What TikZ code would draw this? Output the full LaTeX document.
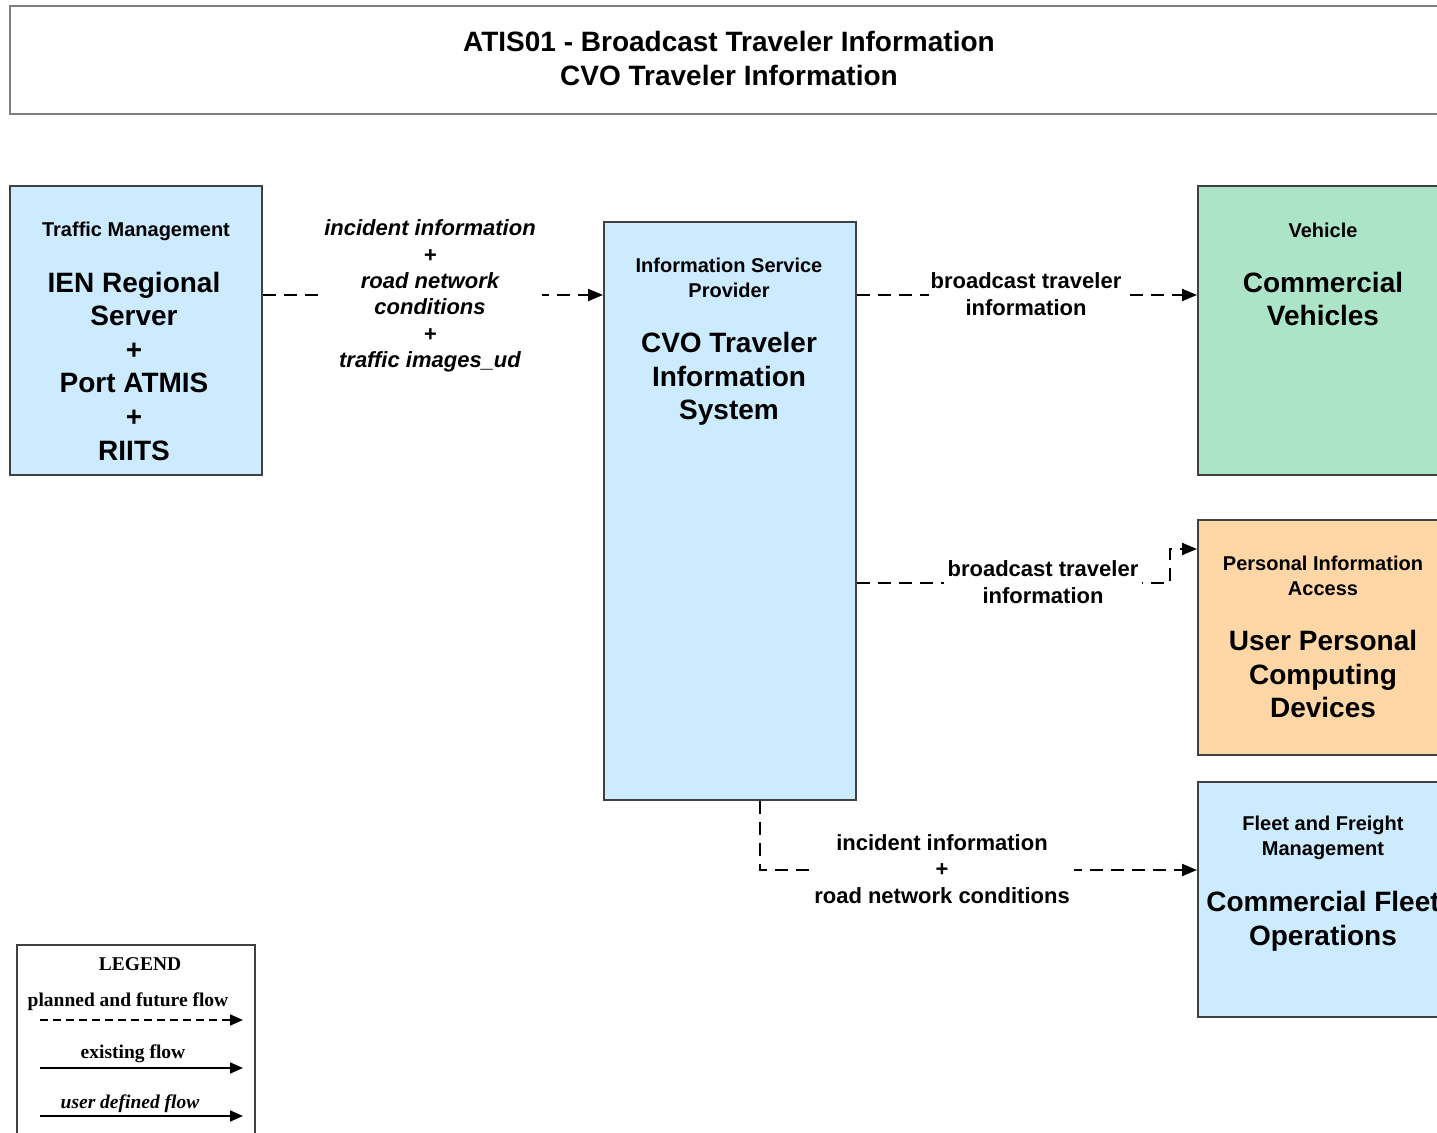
\documentclass[tikz,border=0pt]{standalone}
\usepackage{fontspec}
\setmainfont{Liberation Sans}
\newfontfamily\legendfont{Liberation Serif}
\usetikzlibrary{arrows.meta}
\definecolor{infoblue}{RGB}{204,235,255}
\definecolor{vehgreen}{RGB}{172,228,200}
\definecolor{paorange}{RGB}{255,214,166}
\definecolor{edgegray}{RGB}{64,64,64}
\definecolor{titlegray}{RGB}{128,128,128}
\begin{document}
\begin{tikzpicture}[x=0.5pt,y=-0.5pt,
  unitbox/.style={draw=edgegray, line width=1pt, inner sep=0pt,
    minimum width=126pt},
  cattext/.style={font=\bfseries\fontsize{10}{12.5}\selectfont, align=center, inner sep=0pt},
  nametext/.style={font=\bfseries\fontsize{14}{16.8}\selectfont, align=center, inner sep=0pt},
  flowlabel/.style={font=\bfseries\fontsize{11}{13.2}\selectfont, align=center,
    fill=white, inner xsep=2pt, inner ysep=0pt},
  flow/.style={line width=1pt, dash pattern=on 6.5pt off 4pt,
    -{Triangle[length=7.5pt,width=6pt]}},
  legendtext/.style={font=\legendfont\bfseries\fontsize{9.75}{12}\selectfont, inner sep=0pt},
  legendtip/.style={line width=0.8pt, -{Triangle[length=6.5pt,width=5.5pt]}},
]
\useasboundingbox (0,0) rectangle (1437,1133);
\clip (0,0) rectangle (1437,1133);

% title frame
\node[draw=titlegray, line width=1.3pt, minimum width=719pt, minimum height=54pt,
  inner sep=0pt] (title) at (729,60) {};
\node[font=\bfseries\fontsize{14}{17}\selectfont, align=center, inner sep=0pt] (titletext)
  at (729,58) {ATIS01 - Broadcast Traveler Information\\CVO Traveler Information};

% subsystem and terminator boxes
\node[unitbox, fill=infoblue, minimum height=144.5pt] (tm) at (136,330.5) {};
\node[unitbox, fill=infoblue, minimum height=289pt] (isp) at (730,511) {};
\node[unitbox, fill=vehgreen, minimum height=144.5pt] (veh) at (1324,330.5) {};
\node[unitbox, fill=paorange, minimum height=117.5pt] (pia) at (1324,637.5) {};
\node[unitbox, fill=infoblue, minimum height=117.5pt] (ffm) at (1324,899.5) {};

% box texts
\node[cattext] (tmcat) at (136,231) {Traffic Management};
\node[nametext] (tmname) at (134,366) {IEN Regional\\Server\\+\\Port ATMIS\\+\\RIITS};
\node[cattext] (ispcat) at (729,278) {Information Service\\Provider};
\node[nametext] (ispname) at (729,379) {CVO Traveler\\Information\\System};
\node[cattext] (vehcat) at (1323,230) {Vehicle};
\node[nametext] (vehname) at (1323,299) {Commercial\\Vehicles};
\node[cattext] (piacat) at (1323,576) {Personal Information\\Access};
\node[nametext] (pianame) at (1323,674) {User Personal\\Computing\\Devices};
\node[cattext] (ffmcat) at (1323,838) {Fleet and Freight\\Management};
\node[nametext] (ffmname) at (1323,921) {Commercial Fleet\\Operations};

% bend points of the flows
\coordinate (y1) at (0,295);
\coordinate (k3) at (1170,583);
\coordinate (k3b) at (1170,549);
\coordinate (k4) at (760,870);

% flows
\draw[flow] (tm.east |- y1) -- (isp.west |- y1);
\draw[flow] (isp.east |- y1) -- (veh.west |- y1);
\draw[flow] (isp.east |- k3) -- (k3) -- (k3b) -- (pia.west |- k3b);
\draw[flow] (isp.south -| k4) -- (k4) -- (ffm.west |- k4);

% flow labels
\node[flowlabel, font=\bfseries\itshape\fontsize{11}{13.2}\selectfont, inner xsep=3pt]
  (l1) at (430,296) {incident information\\+\\road network\\conditions\\+\\traffic images\_ud};
\node[flowlabel, inner xsep=1pt] (l2) at (1026,294) {broadcast traveler\\information};
\node[flowlabel, inner xsep=2pt] (l3) at (1043,582) {broadcast traveler\\information};
\node[flowlabel, inner xsep=2pt] (l4) at (942,869) {incident information\\+\\road network conditions};

% legend
\node[draw=edgegray, line width=1pt, minimum width=119pt, minimum height=110pt,
  inner sep=0pt] (legend) at (136,1055) {};
\node[legendtext] (legtitle) at (140,964) {LEGEND};
\node[legendtext] (legplanned) at (128,1002) {planned and future flow};
\node[legendtext] (legexisting) at (133,1054) {existing flow};
\node[legendtext, font=\legendfont\bfseries\itshape\fontsize{9.75}{12}\selectfont]
  (leguser) at (130,1104) {user defined flow};
\coordinate (pa) at (40,1020);  \coordinate (pb) at (243,1020);
\coordinate (ea) at (40,1068);  \coordinate (eb) at (243,1068);
\coordinate (ua) at (40,1116);  \coordinate (ub) at (243,1116);
\draw[legendtip, dash pattern=on 4pt off 2.5pt] (pa) -- (pb);
\draw[legendtip] (ea) -- (eb);
\draw[legendtip] (ua) -- (ub);
\end{tikzpicture}
\end{document}
